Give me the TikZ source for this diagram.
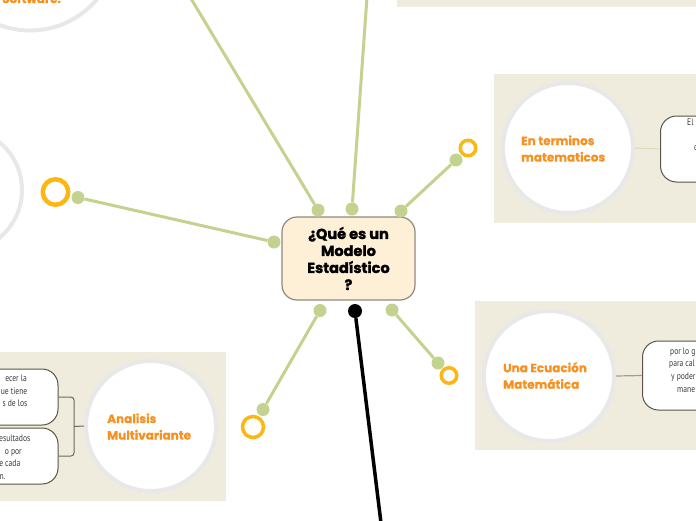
\documentclass[tikz,border=0pt]{standalone}
\usepackage{fontspec}
\newfontfamily\titlefont[BoldFeatures={FakeBold=1.6}]{Poppins}
\newfontfamily\headfont[BoldFeatures={FakeBold=0.4}]{Poppins}
\newfontfamily\boxfont[FakeStretch=0.8]{PT Sans}
\definecolor{panelc}{HTML}{EFECDE}
\definecolor{ringgray}{HTML}{E8E8E8}
\definecolor{branchc}{HTML}{C3D28E}
\definecolor{ringc}{HTML}{FDB614}
\definecolor{headc}{HTML}{F7901E}
\definecolor{qfill}{HTML}{FDF0D6}
\definecolor{qdraw}{HTML}{8F887C}
\definecolor{boxdraw}{HTML}{5B5343}
\definecolor{boxtxtc}{HTML}{3A3A3A}
\definecolor{linkgreen}{HTML}{D6DEB8}
\definecolor{linkgray}{HTML}{A39F90}
\definecolor{linkdark}{HTML}{6E6759}
\begin{document}
\begin{tikzpicture}[x=1pt,y=-1pt,
 panel/.style={fill=panelc},
 topic/.style={circle, draw=ringgray, line width=4pt, fill=white, inner sep=0pt},
 headtxt/.style={text=headc, font=\headfont\bfseries\fontsize{12}{16.5}\selectfont, align=left, inner sep=0pt},
 gdot/.style={circle, fill=branchc, minimum size=13pt, inner sep=0pt},
 blackdot/.style={circle, fill=black, minimum size=14pt, inner sep=0pt},
 ringnode/.style={circle, draw=ringc, inner sep=0pt},
 branch/.style={draw=branchc, line width=3pt},
 rbox/.style={draw=boxdraw, line width=1pt, fill=white, rounded corners=16pt, inner sep=0pt},
 boxtxt/.style={text=boxtxtc, font=\boxfont\fontsize{9.5}{12}\selectfont, inner sep=0pt},
 qnode/.style={draw=qdraw, line width=1.2pt, fill=qfill, rounded corners=15pt, minimum width=133pt, minimum height=83pt, align=center, inner sep=0pt, font=\titlefont\bfseries\fontsize{14.5}{17}\selectfont}
]
\useasboundingbox (0,0) rectangle (696,520);
\clip (0,0) rectangle (696,520);
% panels
\fill[panel] (397,-5) rectangle (700,7);
\fill[panel] (494,74) rectangle (700,223);
\fill[panel] (475,301) rectangle (700,450);
\fill[panel] (-5,352) rectangle (226,501);
% topic circles
\node[topic, minimum size=175pt] (cs) at (30,-57) {};
\node[topic, minimum size=124pt] (cl) at (-40,190) {};
\node[topic, minimum size=130pt] (c1) at (568,148) {};
\node[topic, minimum size=130pt] (c2) at (549,376) {};
\node[topic, minimum size=130pt] (c3) at (151,426) {};
% headings
\node[headtxt, anchor=base west] (h0) at (2,3) {Software.};
\node[headtxt, anchor=west] (h1) at (521,148.5) {En terminos\\matematicos};
\node[headtxt, anchor=west] (h2) at (503,375.5) {Una Ecuación\\Matemática};
\node[headtxt, anchor=west] (h3) at (107,426.5) {Analisis\\Multivariante};
% text boxes
\node[rbox, minimum width=110pt, minimum height=66pt, anchor=west] (b1) at (660,149) {};
\draw[linkgreen, line width=1pt] (c1.east) -- (b1.west);
\node[boxtxt, anchor=base west] (b1a) at (687,125) {El};
\node[boxtxt, anchor=base west] (b1b) at (694,150.5) {c};
\node[rbox, minimum width=110pt, minimum height=69pt, anchor=west] (b2) at (642,375.5) {};
\draw[linkgray, line width=1.2pt] (c2.east) -- (b2.west);
\node[boxtxt, anchor=base west] (b2a) at (670,354) {por lo g};
\node[boxtxt, anchor=base west] (b2b) at (669,366.7) {para cal};
\node[boxtxt, anchor=base west] (b2c) at (671,379.4) {y poder};
\node[boxtxt, anchor=base west] (b2d) at (677,392) {mane};
\node[rbox, minimum width=110pt, minimum height=56pt, anchor=east] (b3) at (58.5,397) {};
\node[rbox, minimum width=110pt, minimum height=56pt, anchor=east] (b4) at (58.5,456) {};
\coordinate (br) at (74,426.5);
\draw[linkdark, line width=1pt, rounded corners=3pt] (b3.east) -- ++(15.5,0) |- (b4.east);
\draw[linkdark, line width=1pt] (br) -- (c3.west);
\node[boxtxt, anchor=base east] (b3a) at (27,381.5) {ecer la};
\node[boxtxt, anchor=base east] (b3b) at (27.5,394) {ue tiene};
\node[boxtxt, anchor=base east] (b3c) at (27.5,406.5) {s de los};
\node[boxtxt, anchor=base east] (b4a) at (30.5,441.5) {esultados};
\node[boxtxt, anchor=base east] (b4b) at (22,454) {o por};
\node[boxtxt, anchor=base east] (b4c) at (20.5,466.5) {e cada};
\node[boxtxt, anchor=base east] (b4d) at (5.5,479) {n.};
% central node
\node[qnode] (q) at (348.5,258.5) {¿Qué es un\\Modelo\\Estadístico\\?};
% branches
\node[gdot] (t1) at (318,210) {};
\coordinate (t1e) at (190,-3);
\node[gdot] (t2) at (352,209) {};
\coordinate (t2e) at (367,-3);
\node[gdot] (t3) at (401,211) {};
\node[gdot] (t3e) at (456,160) {};
\node[ringnode, line width=3.5pt, minimum size=15.5pt] (r3) at (468,148) {};
\node[gdot] (t4) at (274,242) {};
\node[gdot] (t4e) at (78,197.5) {};
\node[ringnode, line width=4.5pt, minimum size=25.5pt] (r4) at (55.5,192) {};
\node[gdot] (t5) at (320,310.5) {};
\node[gdot] (t5e) at (263,409.5) {};
\node[ringnode, line width=3.5pt, minimum size=21pt] (r5) at (253,427) {};
\node[gdot] (t6) at (392,310) {};
\node[gdot] (t6e) at (438,363) {};
\node[ringnode, line width=3.5pt, minimum size=15.5pt] (r6) at (449,375.5) {};
\node[blackdot] (t7) at (355,311) {};
\coordinate (t7e) at (381,523);
\draw[branch] (t1) -- (t1e);
\draw[branch] (t2) -- (t2e);
\draw[branch] (t3) -- (t3e);
\draw[branch] (t4) -- (t4e);
\draw[branch] (t5) -- (t5e);
\draw[branch] (t6) -- (t6e);
\draw[line width=3.5pt] (t7) -- (t7e);
\end{tikzpicture}
\end{document}
